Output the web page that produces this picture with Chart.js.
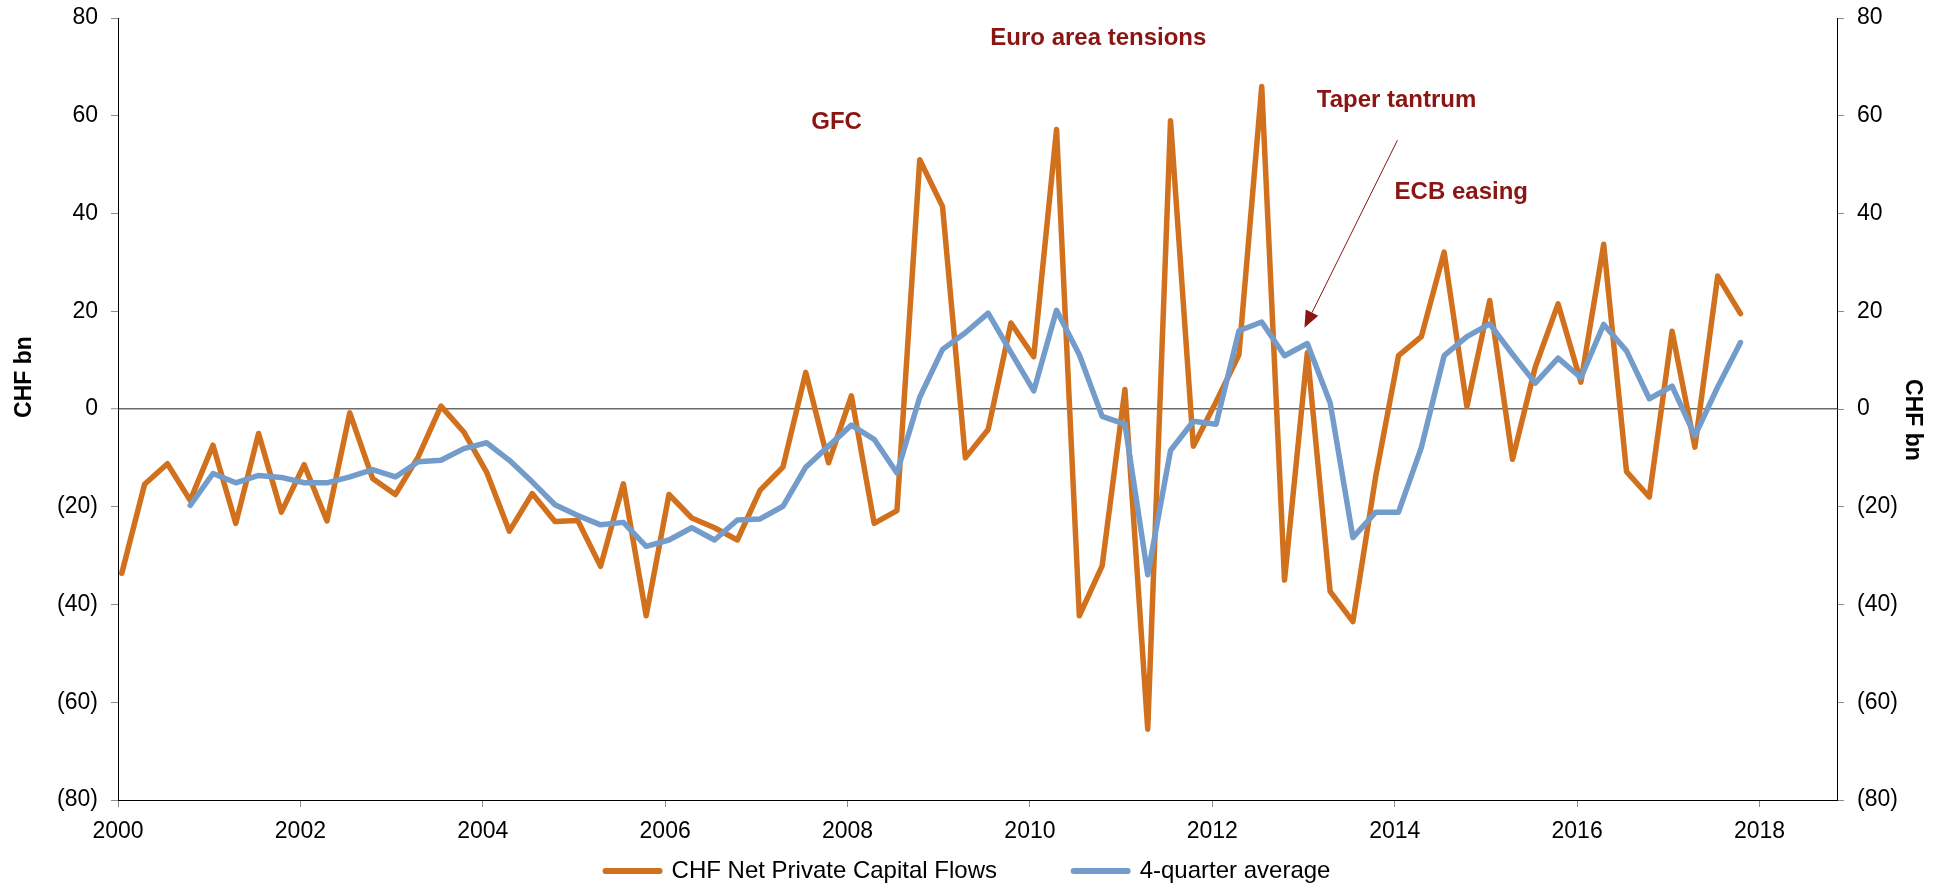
<!DOCTYPE html>
<html>
<head>
<meta charset="utf-8">
<script src="https://cdn.jsdelivr.net/npm/chart.js@4.4.1/dist/chart.umd.min.js"></script>
<style>
  html, body { margin: 0; padding: 0; background: #fff; }
  #wrap { width: 1936px; height: 885px; position: relative; }
</style>
</head>
<body>
<div id="wrap"><canvas id="flowsChart"></canvas></div>
<script>
// quarterly data, CHF bn
const quarters = [
  '2000Q1', '2000Q2', '2000Q3', '2000Q4', '2001Q1', '2001Q2', '2001Q3', '2001Q4',
  '2002Q1', '2002Q2', '2002Q3', '2002Q4', '2003Q1', '2003Q2', '2003Q3', '2003Q4',
  '2004Q1', '2004Q2', '2004Q3', '2004Q4', '2005Q1', '2005Q2', '2005Q3', '2005Q4',
  '2006Q1', '2006Q2', '2006Q3', '2006Q4', '2007Q1', '2007Q2', '2007Q3', '2007Q4',
  '2008Q1', '2008Q2', '2008Q3', '2008Q4', '2009Q1', '2009Q2', '2009Q3', '2009Q4',
  '2010Q1', '2010Q2', '2010Q3', '2010Q4', '2011Q1', '2011Q2', '2011Q3', '2011Q4',
  '2012Q1', '2012Q2', '2012Q3', '2012Q4', '2013Q1', '2013Q2', '2013Q3', '2013Q4',
  '2014Q1', '2014Q2', '2014Q3', '2014Q4', '2015Q1', '2015Q2', '2015Q3', '2015Q4',
  '2016Q1', '2016Q2', '2016Q3', '2016Q4', '2017Q1', '2017Q2', '2017Q3', '2017Q4'
];

const netFlows = [
  -33.6, -15.4, -11.2, -18.7,   -7.4, -23.4, -5.0, -21.1,
  -11.4, -22.9, -0.8, -14.2,    -17.5, -9.8, 0.6, -4.7,
  -12.9, -25.0, -17.3, -23.0,   -22.8, -32.2, -15.3, -42.3,
  -17.5, -22.3, -24.3, -26.8,   -16.6, -11.9, 7.5, -11.0,
  2.7, -23.4, -20.8, 51.0,      41.4, -10.0, -4.2, 17.6,
  10.7, 57.2, -42.3, -32.1,     4.0, -65.5, 59.0, -7.6,
  1.5, 11.1, 66.0, -35.0,       11.5, -37.3, -43.5, -13.8,
  10.9, 14.8, 32.1, 0.5,        22.2, -10.3, 8.6, 21.5,
  5.5, 33.7, -12.8, -18.0,      15.9, -7.8, 27.2, 19.5
];

const fourQtrAvg = [
  null, null, null, -19.7,      -13.2, -15.1, -13.6, -14.0,
  -15.1, -15.1, -13.9, -12.4,   -13.9, -10.8, -10.5, -8.1,
  -6.9, -10.5, -14.9, -19.6,    -21.8, -23.7, -23.2, -28.1,
  -26.8, -24.3, -26.8, -22.7,   -22.5, -19.9, -11.9, -7.6,
  -3.3, -6.2, -13.1, 2.4,       12.2, 15.6, 19.6, 11.6,
  3.7, 20.2, 11.1, -1.5,        -3.1, -33.9, -8.5, -2.5,
  -3.1, 16.0, 17.8, 10.9,       13.4, 1.3, -26.3, -21.1,
  -21.1, -7.9, 10.9, 14.8,      17.4, 11.2, 5.3, 10.4,
  6.4, 17.3, 11.9, 2.1,         4.7, -5.5, 4.5, 13.6
];

const yearTicks = [2000, 2002, 2004, 2006, 2008, 2010, 2012, 2014, 2016, 2018];
const valueTicks = [-80, -60, -40, -20, 0, 20, 40, 60, 80];

const seriesNames = ['CHF Net Private Capital Flows', '4-quarter average'];

// excel date axis: each quarter sits mid-month of its first month
function quarterPos(q) {
  const year = parseInt(q.slice(0, 4));
  const qn = parseInt(q.slice(5));
  return year + (3 * (qn - 1) + 0.5) / 12;
}

function toPoints(values) {
  return quarters.map((q, i) => ({ x: quarterPos(q), y: values[i] }));
}

function fmtValue(v) {
  return v < 0 ? '(' + Math.abs(v) + ')' : String(v);
}

// fixed widths so the plot area lines up with the original
function fixWidth(w) {
  return s => { s.width = w; s.paddingTop = 0; s.paddingBottom = 0; };
}

const FONT = "'Liberation Sans', Arial, sans-serif";
const RED = '#8a1512';

const annotations = {
  id: 'annotations',
  afterDatasetsDraw(chart) {
    const { ctx, chartArea, scales } = chart;
    const xs = scales.x, ys = scales.y;
    ctx.save();

    // text baselines given in data units
    ctx.fillStyle = RED;
    ctx.font = 'bold 24px ' + FONT;
    ctx.textAlign = 'center';
    ctx.textBaseline = 'alphabetic';
    const notes = [
      ['GFC', 2007.88, 57.2],
      ['Euro area tensions', 2010.75, 74.5],
      ['Taper tantrum', 2014.02, 61.7],
      ['ECB easing', 2014.73, 43.0]
    ];
    notes.forEach(n => ctx.fillText(n[0], xs.getPixelForValue(n[1]), ys.getPixelForValue(n[2])));

    // arrow pointing at taper tantrum
    const x1 = xs.getPixelForValue(2014.03), y1 = ys.getPixelForValue(55.0);
    const x2 = xs.getPixelForValue(2013.01), y2 = ys.getPixelForValue(16.6);
    const len = Math.hypot(x2 - x1, y2 - y1);
    const ux = (x2 - x1) / len, uy = (y2 - y1) / len;
    const head = 17, half = 7;
    ctx.strokeStyle = RED;
    ctx.lineWidth = 1;
    ctx.beginPath();
    ctx.moveTo(x1, y1);
    ctx.lineTo(x2 - ux * head, y2 - uy * head);
    ctx.stroke();
    ctx.beginPath();
    ctx.moveTo(x2, y2);
    ctx.lineTo(x2 - ux * head - uy * half, y2 - uy * head + ux * half);
    ctx.lineTo(x2 - ux * head + uy * half, y2 - uy * head - ux * half);
    ctx.closePath();
    ctx.fill();

    // axis titles
    const mid = (chartArea.top + chartArea.bottom) / 2;
    ctx.fillStyle = '#000';
    ctx.font = 'bold 23px ' + FONT;
    ctx.textBaseline = 'middle';
    ctx.translate(25, mid - 32);
    ctx.rotate(-Math.PI / 2);
    ctx.fillText('CHF bn', 0, 0);
    ctx.setTransform(1, 0, 0, 1, 0, 0);
    ctx.translate(1912, mid + 11);
    ctx.rotate(Math.PI / 2);
    ctx.fillText('CHF bn', 0, 0);
    ctx.restore();
  }
};

const tickGrey = '#8c8c8c';

const flowsChart = new Chart(document.getElementById('flowsChart'), {
  type: 'line',
  data: {
    datasets: [
      {
        label: seriesNames[0],
        data: toPoints(netFlows),
        borderColor: '#d2711d',
        backgroundColor: '#d2711d',
        borderWidth: 5.5,
        pointRadius: 0,
        borderJoinStyle: 'round',
        borderCapStyle: 'round',
        order: 1
      },
      {
        label: seriesNames[1],
        data: toPoints(fourQtrAvg),
        borderColor: '#739ccb',
        backgroundColor: '#739ccb',
        borderWidth: 5.5,
        pointRadius: 0,
        borderJoinStyle: 'round',
        borderCapStyle: 'round',
        order: 0
      }
    ]
  },
  options: {
    responsive: true,
    maintainAspectRatio: false,
    animation: false,
    layout: { padding: { top: 18, bottom: -8, left: 0, right: 0 } },
    font: { family: FONT },
    scales: {
      x: {
        type: 'linear',
        min: 2000,
        max: 2018.85,
        afterFit: s => { s.height = 49; },
        afterBuildTicks: s => { s.ticks = yearTicks.map(v => ({ value: v })); },
        ticks: {
          autoSkip: false, maxRotation: 0, padding: 11, color: '#000',
          font: { family: FONT, size: 23 },
          callback: v => String(v)
        },
        grid: { drawOnChartArea: false, tickLength: 7, tickColor: tickGrey },
        border: { color: '#000', width: 1 }
      },
      y: {
        position: 'left',
        min: -80,
        max: 80,
        afterFit: fixWidth(118),
        afterBuildTicks: s => { s.ticks = valueTicks.map(v => ({ value: v })); },
        ticks: {
          padding: 13, color: '#000',
          font: { family: FONT, size: 23 },
          callback: fmtValue
        },
        grid: {
          color: c => (c.tick && c.tick.value === 0) ? '#6b6b6b' : 'rgba(0,0,0,0)',
          lineWidth: c => (c.tick && c.tick.value === 0) ? 1.5 : 1,
          tickColor: tickGrey,
          tickWidth: 1,
          tickLength: 7
        },
        border: { color: '#000', width: 1 }
      },
      y2: {
        position: 'right',
        min: -80,
        max: 80,
        afterFit: fixWidth(99),
        afterBuildTicks: s => { s.ticks = valueTicks.map(v => ({ value: v })); },
        ticks: {
          padding: 13, color: '#000',
          font: { family: FONT, size: 23 },
          callback: fmtValue
        },
        grid: { drawOnChartArea: false, tickLength: 7, tickColor: tickGrey },
        border: { color: '#000', width: 1 }
      }
    },
    plugins: {
      tooltip: { enabled: false },
      legend: {
        position: 'bottom',
        labels: {
          usePointStyle: true,
          pointStyleWidth: 54,
          padding: 10,
          color: '#000',
          font: { family: FONT, size: 24 },
          sort: (a, b) => a.datasetIndex - b.datasetIndex,
          generateLabels: chart =>
            Chart.defaults.plugins.legend.labels.generateLabels(chart).map(item => ({
              ...item,
              pointStyle: 'line',
              lineWidth: 6,
              lineCap: 'round',
              text: item.datasetIndex === 0 ? item.text + '          ' : item.text
            }))
        }
      }
    }
  },
  plugins: [annotations]
});
</script>
</body>
</html>
